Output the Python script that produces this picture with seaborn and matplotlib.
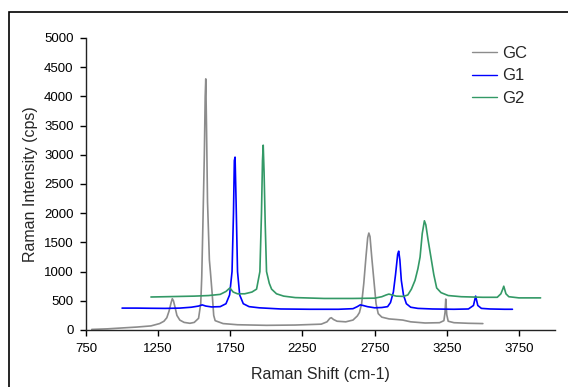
import matplotlib
matplotlib.use("Agg")
import matplotlib.pyplot as plt
import seaborn as sns
import pandas as pd
from matplotlib.patches import Rectangle

# ---- data ----
gc_x = [790, 900, 1000, 1100, 1200, 1260, 1290, 1310, 1325, 1340, 1348, 1356, 1368, 1380, 1400, 1430,
        1470, 1500, 1530, 1545, 1552, 1560, 1570, 1576, 1580, 1585, 1592, 1605, 1612, 1625, 1635, 1645,
        1700, 1800, 2000, 2200, 2380, 2420, 2440, 2450, 2465, 2490, 2550, 2600, 2630, 2645, 2660, 2675,
        2690, 2702, 2710, 2718, 2730, 2745, 2760, 2775, 2800, 2850, 2900, 2945, 3000, 3100, 3200, 3230,
        3238, 3243, 3250, 3260, 3300, 3400, 3500]
gc_y = [10, 20, 35, 50, 70, 110, 150, 210, 320, 470, 536, 500, 380, 250, 170, 130,
        115, 130, 200, 450, 900, 1800, 3000, 4000, 4300, 3500, 2200, 1200, 1000, 600, 250, 160,
        110, 90, 80, 85, 100, 140, 200, 210, 180, 150, 140, 170, 240, 300, 450, 800,
        1250, 1580, 1660, 1600, 1250, 850, 450, 280, 220, 190, 180, 170, 140, 120, 125, 160,
        300, 530, 260, 150, 125, 115, 110]

g1_x = [1000, 1100, 1200, 1300, 1400, 1480, 1530, 1555, 1580, 1620, 1680, 1720, 1745, 1762, 1772,
        1778, 1783, 1790, 1800, 1815, 1840, 1880, 1950, 2100, 2300, 2500, 2600, 2630, 2650, 2670,
        2700, 2750, 2800, 2840, 2860, 2880, 2895, 2910, 2917, 2925, 2935, 2950, 2970, 3000, 3050,
        3150, 3300, 3400, 3435, 3450, 3465, 3490, 3550, 3650, 3705]
g1_y = [375, 375, 372, 370, 375, 390, 410, 430, 410, 395, 400, 450, 600, 1000, 2000,
        2900, 2960, 2200, 1000, 600, 450, 400, 380, 360, 355, 355, 365, 400, 430, 420,
        400, 380, 385, 400, 470, 650, 950, 1300, 1350, 1200, 850, 600, 450, 390, 370,
        360, 355, 360, 420, 580, 420, 370, 360, 355, 355]

g2_x = [1200, 1300, 1400, 1500, 1600, 1680, 1720, 1747, 1770, 1800, 1850, 1900, 1932, 1955, 1966,
        1973, 1978, 1984, 1992, 2001, 2020, 2036, 2070, 2120, 2200, 2400, 2600, 2750, 2800, 2830,
        2849, 2870, 2900, 2950, 2980, 3005, 3030, 3050, 3065, 3080, 3095, 3105, 3120, 3140, 3160,
        3180, 3210, 3260, 3350, 3500, 3600, 3625, 3638, 3645, 3660, 3680, 3750, 3900]
g2_y = [565, 570, 575, 580, 590, 610, 660, 720, 650, 620, 620, 650, 700, 1000, 2000,
        2900, 3165, 2700, 1800, 1000, 800, 700, 620, 580, 555, 540, 540, 545, 570, 600,
        615, 600, 580, 575, 600, 700, 850, 1050, 1250, 1650, 1870, 1800, 1550, 1250, 950,
        720, 640, 590, 570, 560, 560, 620, 700, 750, 620, 570, 550, 550]

series_names = ["GC", "G1", "G2"]
series_colors = ["#8C8C8C", "#0000FF", "#339966"]

x_ticks = [750, 1250, 1750, 2250, 2750, 3250, 3750]
y_ticks = [0, 500, 1000, 1500, 2000, 2500, 3000, 3500, 4000, 4500, 5000]

df = pd.concat([
    pd.DataFrame({"shift": gc_x, "intensity": gc_y, "sample": "GC"}),
    pd.DataFrame({"shift": g1_x, "intensity": g1_y, "sample": "G1"}),
    pd.DataFrame({"shift": g2_x, "intensity": g2_y, "sample": "G2"}),
], ignore_index=True)

sns.set_theme(style="ticks")
plt.rcParams["font.family"] = ["Liberation Sans", "DejaVu Sans"]

W, H = 568, 387
fig = plt.figure(figsize=(W / 100, H / 100), dpi=100)
ax = fig.add_axes([86 / W, 1 - 330 / H, (555 - 86) / W, (330 - 38) / H])

sns.lineplot(data=df, x="shift", y="intensity", hue="sample", hue_order=series_names,
             palette=dict(zip(series_names, series_colors)), estimator=None, sort=False,
             linewidth=1.2, ax=ax)

ax.set_xlim(750, 4000)
ax.set_ylim(0, 5000)
ax.set_xticks(x_ticks)
ax.set_yticks(y_ticks)
ax.tick_params(axis="both", labelsize=9.5, length=4, width=1, direction="out",
               colors="black", pad=5)
for s in ["top", "right"]:
    ax.spines[s].set_visible(False)
for s in ["left", "bottom"]:
    ax.spines[s].set_color("#222222")
    ax.spines[s].set_linewidth(1)

ax.set_xlabel("Raman Shift (cm-1)", fontsize=11.5, labelpad=9)
ax.set_ylabel("Raman Intensity (cps)", fontsize=11.5, labelpad=4)

leg = ax.legend(loc="upper left", bbox_to_anchor=(472 / W, 1 - 46 / H),
                bbox_transform=fig.transFigure, frameon=False, fontsize=12,
                handlelength=1.5, handletextpad=0.3, labelspacing=0.45,
                borderpad=0, borderaxespad=0, title=None)
for line in leg.get_lines():
    line.set_linewidth(1.0)

# outer chart border
fig.patches.append(Rectangle((9 / W, -0.1), 1.2, 1 - 12 / H + 0.1, transform=fig.transFigure,
                             fill=False, edgecolor="black", linewidth=1.2, clip_on=False))

fig.savefig("out.png", dpi=100)
